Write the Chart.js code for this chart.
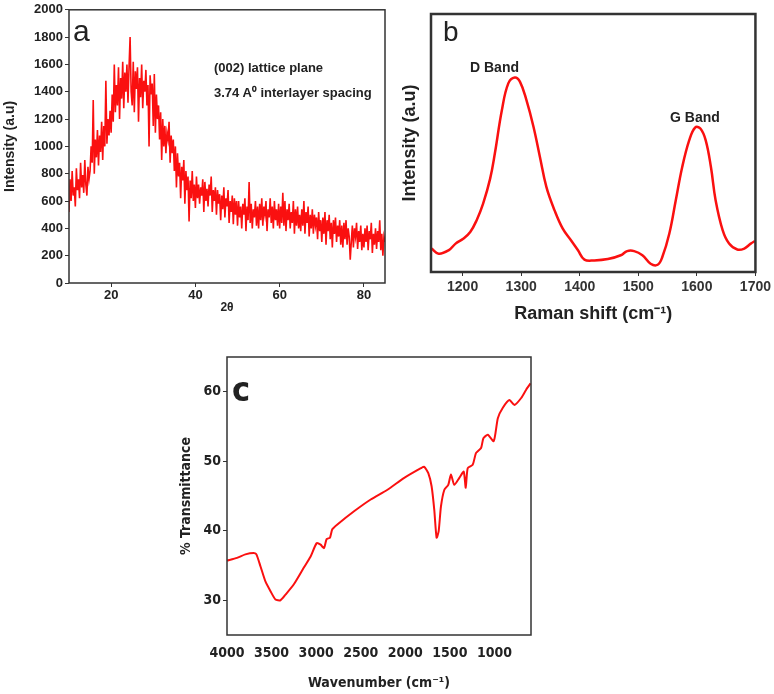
<!DOCTYPE html>
<html>
<head>
<meta charset="utf-8">
<script src="https://cdn.jsdelivr.net/npm/chart.js@4.4.1/dist/chart.umd.min.js"></script>
<style>
  body { margin: 0; background: #fff; width: 774px; height: 694px; position: relative; overflow: hidden;
         font-family: "Liberation Sans", Arial, sans-serif; color: #222; }
  canvas { position: absolute; }
  .note { position: absolute; white-space: nowrap; line-height: 1; font-weight: bold; }
  .narrow { font-family: "Liberation Sans Narrow", "DejaVu Sans Condensed", sans-serif; }
</style>
</head>
<body>
<canvas id="xrd" width="395" height="318" style="left:0;top:0"></canvas>
<canvas id="raman" width="379" height="330" style="left:395px;top:0"></canvas>
<canvas id="ftir" width="420" height="359" style="left:170px;top:335px"></canvas>

<div class="note" style="left:73px;top:16px;font-size:30px;font-weight:normal">a</div>
<div class="note" style="left:214px;top:61px;font-size:13px">(002) lattice plane</div>
<div class="note" style="left:214px;top:86px;font-size:13px">3.74 A⁰ interlayer spacing</div>
<div class="note" style="left:443px;top:18px;font-size:28px;font-weight:normal">b</div>
<div class="note" style="left:470px;top:60px;font-size:14px">D Band</div>
<div class="note" style="left:670px;top:110px;font-size:14px">G Band</div>
<div class="note narrow" style="left:232px;top:372px;font-size:34px">c</div>

<script>
// (a) XRD: intensity read every 0.25 deg 2theta from 10 to 85
const xrdStart = 10;
const xrdStep = 0.25;
const xrdIntensity = [
  520, 760, 600, 820, 640, 700, 560, 840, 680, 760, 620, 880, 700, 790, 660, 900, 720, 640, 850, 760,
  820, 1000, 880, 1340, 800, 1050, 920, 1120, 860, 1080, 960, 1180, 900, 1150, 1000, 1480, 1020, 1200, 1080, 1260,
  1100, 1380, 1180, 1600, 1250, 1450, 1300, 1580, 1200, 1500, 1350, 1620, 1280, 1540, 1400, 1600, 1320, 1580, 1800, 1400,
  1300, 1620, 1250, 1550, 1420, 1580, 1180, 1500, 1360, 1600, 1280, 1480, 1400, 1560, 1300, 1450, 1000, 1520, 1380, 1460,
  1150, 1530, 1100, 1380, 1200, 1300, 1050, 1250, 900, 1200, 1000, 1150, 950, 1100, 1050, 1180, 880, 1080, 950, 1050,
  820, 1000, 700, 950, 780, 880, 620, 850, 750, 900, 580, 820, 680, 780, 450, 750, 620, 820, 600, 720,
  550, 780, 620, 720, 580, 700, 640, 760, 520, 740, 600, 690, 560, 720, 640, 780, 520, 680, 600, 700,
  500, 680, 580, 650, 460, 640, 540, 700, 480, 620, 560, 680, 440, 600, 520, 640, 430, 620, 500, 600,
  420, 600, 480, 560, 400, 580, 500, 620, 380, 560, 460, 740, 440, 580, 400, 540, 480, 600, 420, 560,
  400, 580, 460, 620, 420, 560, 500, 600, 380, 540, 480, 620, 440, 560, 400, 600, 460, 540, 420, 580,
  400, 560, 440, 660, 420, 600, 380, 540, 460, 580, 400, 520, 440, 600, 360, 540, 420, 560, 400, 500,
  380, 540, 420, 600, 360, 520, 440, 560, 340, 500, 400, 540, 360, 500, 420, 480, 320, 520, 380, 460,
  300, 480, 360, 520, 280, 460, 380, 500, 320, 440, 260, 460, 360, 480, 300, 420, 340, 460, 280, 420,
  260, 440, 320, 460, 280, 400, 340, 170, 300, 420, 260, 400, 340, 440, 250, 380, 300, 420, 240, 360,
  260, 400, 300, 420, 240, 380, 320, 440, 220, 360, 280, 400, 250, 380, 300, 460, 240, 360, 200, 340, 300
];
const xrdTicks = [20, 40, 60, 80];

// (b) Raman: shift (cm-1) and intensity (arbitrary, 0-100)
const ramanShift = [1147, 1159, 1176, 1188, 1201, 1213, 1224, 1235, 1247, 1255, 1267, 1278, 1289, 1298,
  1309, 1321, 1332, 1343, 1357, 1371, 1385, 1397, 1408, 1425, 1448, 1470, 1481, 1493, 1507, 1521,
  1533, 1541, 1553, 1564, 1575, 1587, 1597, 1606, 1615, 1624, 1632, 1644, 1655, 1669, 1681, 1692, 1699];
const ramanIntensity = [9.1, 7.1, 8.4, 11.0, 12.9, 15.5, 20.1, 26.5, 36.2, 45.9, 62.7, 73.1, 75.4, 73.7,
  66.6, 56.3, 44.6, 33.0, 23.9, 16.8, 12.3, 8.4, 4.8, 4.5, 5.0, 6.5, 8.1, 8.1, 6.5, 3.2,
  2.8, 5.8, 14.9, 27.8, 40.7, 51.1, 56.0, 55.6, 51.1, 40.7, 27.8, 16.2, 11.0, 8.7, 9.1, 11.0, 12.0];
const ramanTicks = [1200, 1300, 1400, 1500, 1600, 1700];

// (c) FTIR: wavenumber (cm-1) and % transmittance
const ftirWavenumber = [4000, 3888, 3794, 3700, 3670, 3625, 3569, 3512, 3456, 3400, 3344, 3250, 3138, 3062,
  2995, 2950, 2912, 2882, 2845, 2819, 2762, 2575, 2388, 2200, 2012, 1825, 1788, 1742, 1705, 1675,
  1649, 1626, 1600, 1562, 1518, 1488, 1450, 1394, 1345, 1322, 1300, 1244, 1206, 1150, 1124, 1075,
  1008, 962, 906, 831, 775, 700, 644, 595];
const ftirTransmittance = [35.7, 36.1, 36.6, 36.8, 36.6, 34.9, 32.7, 31.3, 30.1, 30.0, 30.8, 32.3, 34.7, 36.3,
  38.2, 38.0, 37.5, 38.8, 39.0, 40.2, 40.9, 42.8, 44.5, 45.9, 47.6, 49.0, 49.2, 48.3, 46.4, 43.0,
  39.0, 39.9, 43.5, 45.9, 46.6, 48.1, 46.6, 47.6, 48.5, 46.2, 49.0, 49.5, 51.2, 51.9, 53.3, 53.8,
  52.9, 56.2, 57.7, 58.8, 58.1, 59.1, 60.3, 61.2];
const ftirXTicks = [1000, 1500, 2000, 2500, 3000, 3500, 4000];
const ftirYTicks = [30, 40, 50, 60];

const RED = "rgb(250,16,16)";
const INK = "#222";
const NARROW = "'Liberation Sans Narrow', 'DejaVu Sans Condensed', sans-serif";

Chart.defaults.font.family = "'Liberation Sans', Arial, sans-serif";
Chart.defaults.color = INK;

// box round the plot area
const framePlugin = {
  id: "frame",
  afterDatasetsDraw(chart, args, opts) {
    const a = chart.chartArea, c = chart.ctx;
    c.save();
    c.strokeStyle = opts.color;
    c.lineWidth = opts.width;
    c.strokeRect(a.left, a.top, a.right - a.left, a.bottom - a.top);
    c.restore();
  }
};

function pairs(xs, ys) {
  return xs.map((x, i) => ({x: x, y: ys[i]}));
}

function fixedTicks(list) {
  return s => { s.ticks = list.map(v => ({value: v})); };
}

const plain = v => String(v);

const baseOptions = {
  responsive: false,
  animation: false,
  devicePixelRatio: 1,
  events: []
};

new Chart(document.getElementById("xrd"), {
  type: "line",
  data: {
    datasets: [{
      data: pairs(xrdIntensity.map((_, i) => xrdStart + i * xrdStep), xrdIntensity),
      borderColor: RED, borderWidth: 1.6, pointRadius: 0, tension: 0
    }]
  },
  options: Object.assign({}, baseOptions, {
    layout: {padding: {top: 9, right: 10, left: 0, bottom: 0}},
    plugins: {legend: {display: false}, tooltip: {enabled: false}, frame: {color: "#333", width: 1.5}},
    scales: {
      x: {
        type: "linear", min: 10, max: 85,
        afterBuildTicks: fixedTicks(xrdTicks),
        afterFit: s => { s.height = 35; },
        border: {display: false},
        grid: {drawOnChartArea: false, tickLength: 4, color: "#333"},
        ticks: {font: {size: 13, weight: "bold"}, padding: 1, maxRotation: 0, callback: plain},
        title: {display: true, text: "2θ", font: {size: 12, weight: "bold"}, padding: {top: 0, bottom: 3}}
      },
      y: {
        min: 0, max: 2000,
        afterFit: s => { s.width = 69; },
        border: {display: false},
        grid: {drawOnChartArea: false, tickLength: 4, color: "#333"},
        ticks: {stepSize: 200, font: {size: 13, weight: "bold"}, padding: 2, callback: plain},
        title: {display: true, text: "Intensity (a.u)", font: {size: 14, weight: "bold"}, padding: {top: 2, bottom: 0}}
      }
    }
  }),
  plugins: [framePlugin]
});

new Chart(document.getElementById("raman"), {
  type: "line",
  data: {
    datasets: [{
      data: pairs(ramanShift, ramanIntensity),
      borderColor: RED, borderWidth: 2.5, pointRadius: 0, tension: 0.4
    }]
  },
  options: Object.assign({}, baseOptions, {
    layout: {padding: {top: 14, right: 17, left: 0, bottom: 0}},
    plugins: {legend: {display: false}, tooltip: {enabled: false}, frame: {color: "#333", width: 2.5}},
    scales: {
      x: {
        type: "linear", min: 1146, max: 1700,
        afterBuildTicks: fixedTicks(ramanTicks),
        afterFit: s => { s.height = 58; },
        border: {display: false},
        grid: {drawOnChartArea: false, tickLength: 4, color: "#333"},
        ticks: {font: {size: 14, weight: "bold"}, color: "#333", padding: 3, maxRotation: 0, callback: plain},
        title: {display: true, text: "Raman shift (cm⁻¹)", font: {size: 18, weight: "bold"}, padding: {top: 0, bottom: 5}}
      },
      y: {
        min: 0, max: 100,
        afterFit: s => { s.width = 36; },
        border: {display: false},
        grid: {display: false},
        ticks: {display: false},
        title: {display: true, text: "Intensity (a.u)", font: {size: 18, weight: "bold"}, padding: {top: 4, bottom: 0}}
      }
    }
  }),
  plugins: [framePlugin]
});

new Chart(document.getElementById("ftir"), {
  type: "line",
  data: {
    datasets: [{
      data: pairs(ftirWavenumber, ftirTransmittance),
      borderColor: RED, borderWidth: 2, pointRadius: 0, tension: 0.2
    }]
  },
  options: Object.assign({}, baseOptions, {
    layout: {padding: {top: 22, right: 59, left: 0, bottom: 0}},
    plugins: {legend: {display: false}, tooltip: {enabled: false}, frame: {color: "#333", width: 1.5}},
    scales: {
      x: {
        type: "linear", reverse: true, min: 590, max: 4000,
        afterBuildTicks: fixedTicks(ftirXTicks),
        afterFit: s => { s.height = 59; },
        border: {display: false},
        grid: {display: false},
        ticks: {font: {family: NARROW, size: 14, weight: "bold"}, padding: 2, maxRotation: 0, callback: plain},
        title: {display: true, text: "Wavenumber (cm⁻¹)", font: {family: NARROW, size: 14, weight: "bold"}, padding: {top: 0, bottom: 2}}
      },
      y: {
        min: 25, max: 65,
        afterBuildTicks: fixedTicks(ftirYTicks),
        afterFit: s => { s.width = 57; },
        border: {display: false},
        grid: {drawOnChartArea: false, tickLength: 4, color: "#333"},
        ticks: {font: {family: NARROW, size: 14, weight: "bold"}, padding: 2, callback: plain},
        title: {display: true, text: "% Transmittance", font: {family: NARROW, size: 14, weight: "bold"}, padding: {top: 8, bottom: 0}}
      }
    }
  }),
  plugins: [framePlugin]
});
</script>
</body>
</html>
